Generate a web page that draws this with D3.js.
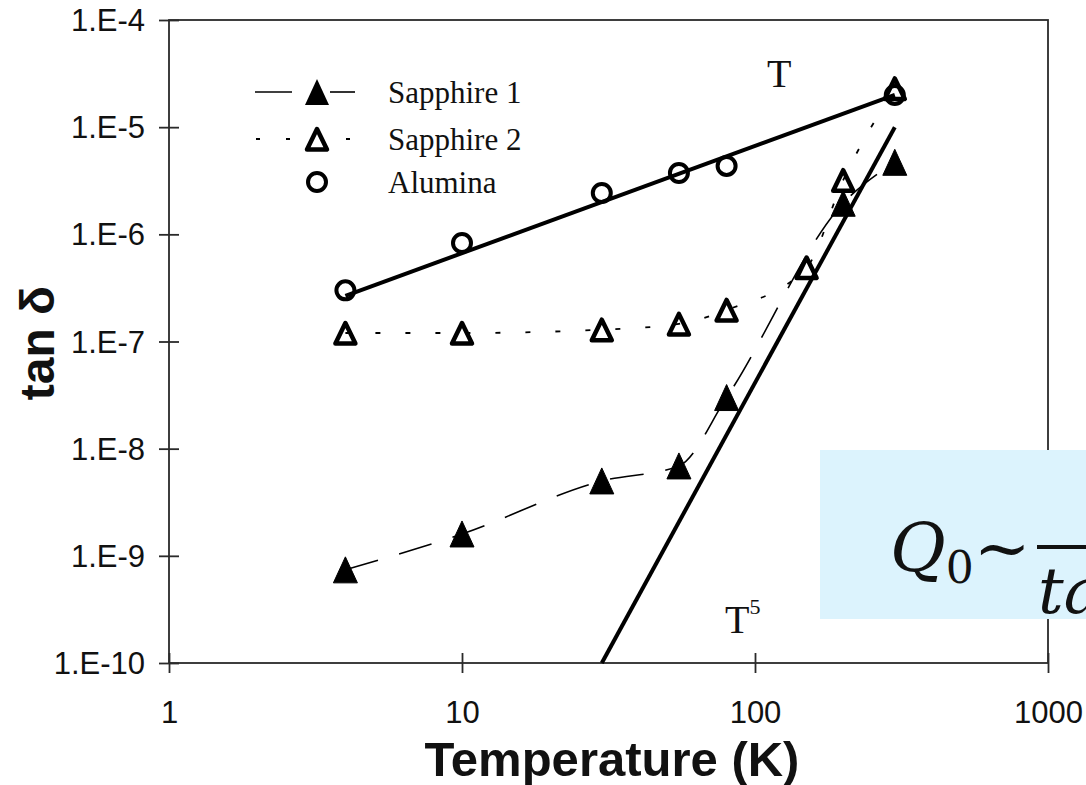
<!DOCTYPE html>
<html>
<head>
<meta charset="utf-8">
<script src="https://cdn.jsdelivr.net/npm/d3@7"></script>
<style>
  html, body { margin: 0; padding: 0; background: #fff; }
  svg { display: block; }
</style>
</head>
<body>
<svg id="chart" width="1086" height="785"></svg>
<script>
// ---------- data ----------
const tempTicks = [1, 10, 100, 1000];
const tempTickLabels = ["1", "10", "100", "1000"];
const tanTicks = [1e-4, 1e-5, 1e-6, 1e-7, 1e-8, 1e-9, 1e-10];
const tanTickLabels = ["1.E-4", "1.E-5", "1.E-6", "1.E-7", "1.E-8", "1.E-9", "1.E-10"];

const sapphire1T = [4, 10, 30, 55, 80, 200, 300];
const sapphire1V = [7.4e-10, 1.6e-9, 5.0e-9, 6.9e-9, 3.0e-8, 1.95e-6, 4.7e-6];

const sapphire2T = [4, 10, 30, 55, 80, 150, 200, 300];
const sapphire2V = [1.2e-7, 1.2e-7, 1.29e-7, 1.46e-7, 1.97e-7, 4.9e-7, 3.2e-6, 2.3e-5];

const aluminaT = [4, 10, 30, 55, 80, 300];
const aluminaV = [3.0e-7, 8.3e-7, 2.43e-6, 3.74e-6, 4.35e-6, 2.0e-5];

// fit lines: tan δ ∝ T and tan δ ∝ T^5
const fitLinearT = [4, 300];
const fitLinearV = [2.67e-7, 2.0e-5];
const fitFifthT = [30, 300];
const fitFifthV = [1.0e-10, 1.0e-5];

const legendNames = ["Sapphire 1", "Sapphire 2", "Alumina"];

// ---------- layout ----------
const svg = d3.select("#chart");
const X0 = 169, X1 = 1048, Y0 = 20, Y1 = 663;
const x = d3.scaleLog().domain([1, 1000]).range([X0, X1]);
const y = d3.scaleLog().domain([1e-10, 1e-4]).range([Y1, Y0]);

const tickFont = "'Liberation Sans', Arial, sans-serif";
const serif = "'Liberation Serif', 'Times New Roman', serif";

// frame
svg.append("rect")
  .attr("x", X0).attr("y", Y0).attr("width", X1 - X0).attr("height", Y1 - Y0)
  .attr("fill", "none").attr("stroke", "#2a2a2a").attr("stroke-width", 1.8);

// x axis
const xAxis = svg.append("g").attr("transform", `translate(0,${Y1})`)
  .call(d3.axisBottom(x).tickValues(tempTicks)
    .tickFormat((d, i) => tempTickLabels[i]).tickSize(10));
xAxis.select(".domain").remove();
xAxis.selectAll(".tick line").attr("y1", -10).attr("y2", 10)
  .attr("stroke", "#2a2a2a").attr("stroke-width", 1.8);
xAxis.selectAll(".tick text").attr("y", 38).attr("dy", "0.71em")
  .attr("font-family", tickFont).attr("font-size", 31).attr("fill", "#111");

// y axis
const yAxis = svg.append("g").attr("transform", `translate(${X0},0)`)
  .call(d3.axisLeft(y).tickValues(tanTicks)
    .tickFormat((d, i) => tanTickLabels[i]).tickSize(10));
yAxis.select(".domain").remove();
yAxis.selectAll(".tick line").attr("x1", -10).attr("x2", 10)
  .attr("stroke", "#2a2a2a").attr("stroke-width", 1.8);
yAxis.selectAll(".tick text").attr("x", -24).attr("dy", "0.34em")
  .attr("font-family", tickFont).attr("font-size", 31).attr("fill", "#111");

// axis titles
svg.append("text")
  .attr("x", 612).attr("y", 776)
  .attr("text-anchor", "middle")
  .attr("font-family", tickFont).attr("font-weight", "bold")
  .attr("font-size", 49).attr("fill", "#111")
  .text("Temperature (K)");

svg.append("text")
  .attr("transform", "translate(54,343) rotate(-90)")
  .attr("text-anchor", "middle")
  .attr("font-family", tickFont).attr("font-weight", "bold")
  .attr("font-size", 48).attr("fill", "#111")
  .text("tan δ");

// ---------- lines ----------
const toPts = (ts, vs) => ts.map((t, i) => [x(t), y(vs[i])]);
const curve = d3.line().curve(d3.curveMonotoneX);
const straight = d3.line();

svg.append("path").attr("d", straight(toPts(fitLinearT, fitLinearV)))
  .attr("fill", "none").attr("stroke", "#000").attr("stroke-width", 4);
svg.append("path").attr("d", straight(toPts(fitFifthT, fitFifthV)))
  .attr("fill", "none").attr("stroke", "#000").attr("stroke-width", 4);

svg.append("path").attr("d", curve(toPts(sapphire1T, sapphire1V)))
  .attr("fill", "none").attr("stroke", "#000").attr("stroke-width", 1.6)
  .attr("stroke-dasharray", "34,22");
svg.append("path").attr("d", curve(toPts(sapphire2T, sapphire2V)))
  .attr("fill", "none").attr("stroke", "#000").attr("stroke-width", 1.8)
  .attr("stroke-dasharray", "5,25");

// ---------- markers ----------
const triFilled = "M0,-13L12,13L-12,13Z";
const triOpen = "M0,-10L10,10.5L-10,10.5Z";

svg.append("g").selectAll("path").data(toPts(sapphire1T, sapphire1V)).join("path")
  .attr("transform", d => `translate(${d[0]},${d[1]})`)
  .attr("d", triFilled).attr("fill", "#000")
  .attr("stroke", "#000").attr("stroke-width", 1).attr("stroke-linejoin", "round");

svg.append("g").selectAll("path").data(toPts(sapphire2T, sapphire2V)).join("path")
  .attr("transform", d => `translate(${d[0]},${d[1]})`)
  .attr("d", triOpen).attr("fill", "none")
  .attr("stroke", "#000").attr("stroke-width", 4.5).attr("stroke-linejoin", "round");

svg.append("g").selectAll("circle").data(toPts(aluminaT, aluminaV)).join("circle")
  .attr("cx", d => d[0]).attr("cy", d => d[1]).attr("r", 9)
  .attr("fill", "none").attr("stroke", "#000").attr("stroke-width", 4);

// ---------- annotations ----------
svg.append("text").attr("x", 767).attr("y", 87)
  .attr("font-family", serif).attr("font-size", 40).attr("fill", "#111").text("T");
const t5 = svg.append("text").attr("x", 725).attr("y", 633)
  .attr("font-family", serif).attr("font-size", 40).attr("fill", "#111");
t5.append("tspan").text("T");
t5.append("tspan").attr("dy", -19).attr("font-size", 22).text("5");

// ---------- legend ----------
const legY = [92, 139, 182];
const legMX = 317;
// Sapphire 1: solid segments
svg.append("line").attr("x1", 255).attr("x2", 292).attr("y1", legY[0]).attr("y2", legY[0])
  .attr("stroke", "#000").attr("stroke-width", 1.6);
svg.append("line").attr("x1", 330).attr("x2", 355).attr("y1", legY[0]).attr("y2", legY[0])
  .attr("stroke", "#000").attr("stroke-width", 1.6);
svg.append("path").attr("transform", `translate(${legMX},${legY[0]})`)
  .attr("d", triFilled).attr("fill", "#000");
// Sapphire 2: dotted
svg.append("line").attr("x1", 256).attr("x2", 352).attr("y1", legY[1]).attr("y2", legY[1])
  .attr("stroke", "#000").attr("stroke-width", 1.8).attr("stroke-dasharray", "4,26");
svg.append("path").attr("transform", `translate(${legMX},${legY[1]})`)
  .attr("d", triOpen).attr("fill", "#fff").attr("stroke", "#000")
  .attr("stroke-width", 4.5).attr("stroke-linejoin", "round");
// Alumina
svg.append("circle").attr("cx", legMX).attr("cy", legY[2]).attr("r", 9)
  .attr("fill", "none").attr("stroke", "#000").attr("stroke-width", 4);

svg.append("g").selectAll("text").data(legendNames).join("text")
  .attr("x", 388).attr("y", (d, i) => legY[i]).attr("dy", "0.35em")
  .attr("font-family", serif).attr("font-size", 31).attr("fill", "#111")
  .text(d => d);

// ---------- formula box ----------
svg.append("rect").attr("x", 820).attr("y", 450).attr("width", 300).attr("height", 169)
  .attr("fill", "#dcf3fd");
const mathFont = "'DejaVu Serif', 'Liberation Serif', serif";
const q = svg.append("text").attr("x", 890).attr("y", 571)
  .attr("font-family", mathFont).attr("font-style", "italic")
  .attr("font-size", 68).attr("fill", "#111");
q.append("tspan").text("Q");
q.append("tspan").attr("font-style", "normal").attr("font-size", 44).attr("dy", 12).text("0");
q.append("tspan").attr("font-style", "normal").attr("dy", -12).text("~");
svg.append("line").attr("x1", 1037).attr("x2", 1090).attr("y1", 547).attr("y2", 547)
  .attr("stroke", "#111").attr("stroke-width", 4);
svg.append("text").attr("x", 1038).attr("y", 613)
  .attr("font-family", mathFont).attr("font-style", "italic")
  .attr("font-size", 64).attr("fill", "#111").text("tan δ");
</script>
</body>
</html>
